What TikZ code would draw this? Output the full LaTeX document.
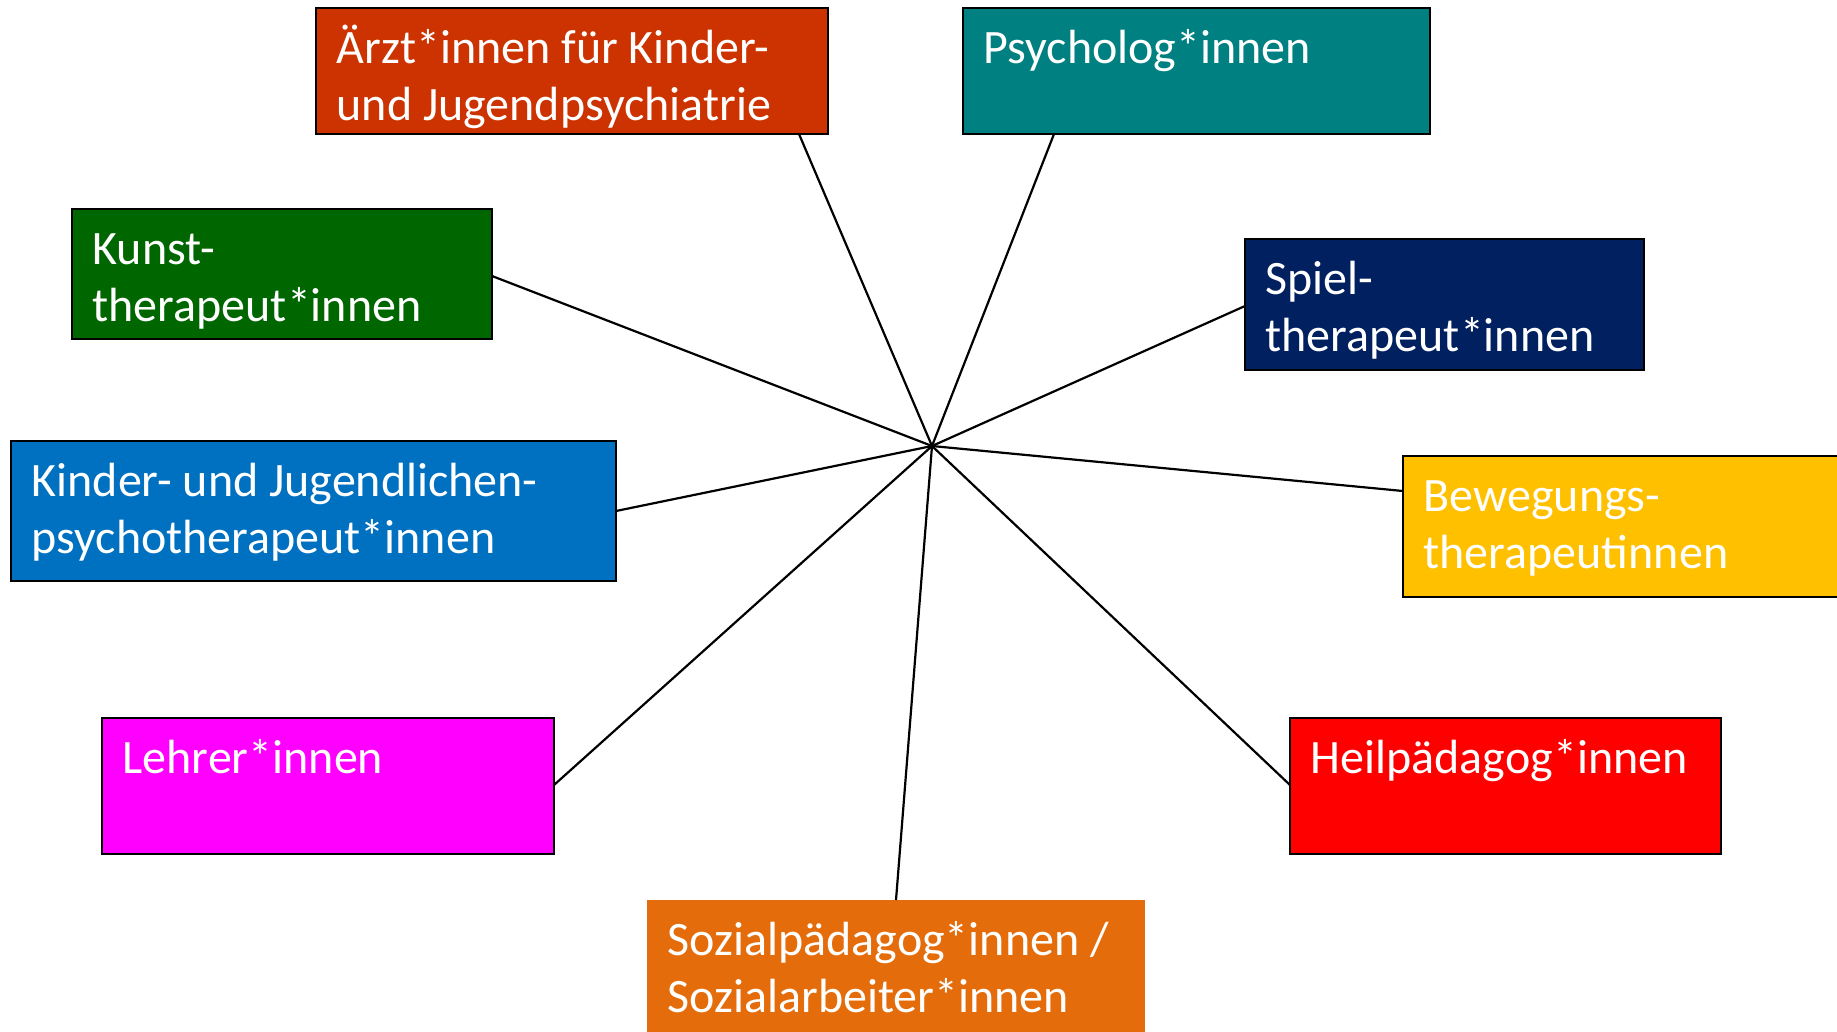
\documentclass[tikz,border=0pt]{standalone}
\usepackage{fontspec}
\setmainfont{Carlito}

\definecolor{arztrot}{RGB}{204,51,0}
\definecolor{petrol}{RGB}{0,128,128}
\definecolor{dunkelgruen}{RGB}{0,102,0}
\definecolor{marine}{RGB}{0,32,96}
\definecolor{mittelblau}{RGB}{0,112,192}
\definecolor{gelbgold}{RGB}{255,192,0}
\definecolor{magentarosa}{RGB}{255,0,255}
\definecolor{hellrot}{RGB}{255,0,0}
\definecolor{dunkelorange}{RGB}{228,108,10}

\begin{document}
\begin{tikzpicture}[x=1pt,y=-1pt,
    kasten/.style={draw=black, line width=2.2pt, anchor=north west, inner sep=0pt, outer sep=0pt},
    beschr/.style={text=white, font=\fontsize{48}{57}\selectfont, align=left, anchor=north west, inner sep=0pt},
    linie/.style={black, line width=2.2pt}]

  \useasboundingbox[fill=white] (0,0) rectangle (1837,1031);

  % Mitte
  \coordinate (mitte) at (932,446);

  % Kaesten
  \node[kasten, fill=arztrot, minimum width=512pt, minimum height=126pt] (aerzte) at (316,8) {};
  \node[kasten, fill=petrol, minimum width=467pt, minimum height=126pt] (psych) at (963,8) {};
  \node[kasten, fill=dunkelgruen, minimum width=420pt, minimum height=130pt] (kunst) at (72,209) {};
  \node[kasten, fill=marine, minimum width=399pt, minimum height=131pt] (spiel) at (1245,239) {};
  \node[kasten, fill=mittelblau, minimum width=605pt, minimum height=140pt] (kjp) at (11,441) {};
  \node[kasten, fill=gelbgold, minimum width=500pt, minimum height=141pt] (beweg) at (1403,456) {};
  \node[kasten, fill=magentarosa, minimum width=452pt, minimum height=136pt] (lehrer) at (102,718) {};
  \node[kasten, fill=hellrot, minimum width=431pt, minimum height=136pt] (heil) at (1290,718) {};
  \node[kasten, draw=none, fill=dunkelorange, minimum width=498pt, minimum height=200pt] (sozial) at (647,900) {};

  % Texte
  \node[beschr] (aerzte-t) at ([xshift=20.5pt,yshift=-15.1pt]aerzte.north west) {\strut Ärzt*innen für Kinder-\\und Jugendpsychiatrie};
  \node[beschr] (psych-t) at ([xshift=20.5pt,yshift=-15.1pt]psych.north west) {\strut Psycholog*innen};
  \node[beschr] (kunst-t) at ([xshift=20.5pt,yshift=-15.1pt]kunst.north west) {\strut Kunst-\\therapeut*innen};
  \node[beschr] (spiel-t) at ([xshift=20.5pt,yshift=-15.1pt]spiel.north west) {\strut Spiel-\\therapeut*innen};
  \node[beschr] (kjp-t) at ([xshift=20.5pt,yshift=-15.1pt]kjp.north west) {\strut Kinder- und Jugendlichen-\\psychotherapeut*innen};
  \node[beschr] (beweg-t) at ([xshift=20.5pt,yshift=-15.1pt]beweg.north west) {\strut Bewegungs-\\therapeutinnen};
  \node[beschr] (lehrer-t) at ([xshift=20.5pt,yshift=-15.1pt]lehrer.north west) {\strut Lehrer*innen};
  \node[beschr] (heil-t) at ([xshift=20.5pt,yshift=-15.1pt]heil.north west) {\strut Heilpädagog*innen};
  \node[beschr] (sozial-t) at ([xshift=20.5pt,yshift=-15.1pt]sozial.north west) {\strut Sozialpädagog*innen /\\Sozialarbeiter*innen};

  % Linien
  \draw[linie] (mitte) -- ([xshift=483pt]aerzte.south west);
  \draw[linie] (mitte) -- ([xshift=91pt]psych.south west);
  \draw[linie] (mitte) -- ([yshift=-67pt]kunst.north east);
  \draw[linie] (mitte) -- ([yshift=-67pt]spiel.north west);
  \draw[linie] (mitte) -- ([yshift=-70pt]kjp.north east);
  \draw[linie] (mitte) -- ([yshift=-35pt]beweg.north west);
  \draw[linie] (mitte) -- ([yshift=-67pt]lehrer.north east);
  \draw[linie] (mitte) -- ([yshift=-67pt]heil.north west);
  \draw[linie] (mitte) -- ([xshift=249pt]sozial.north west);
\end{tikzpicture}
\end{document}
